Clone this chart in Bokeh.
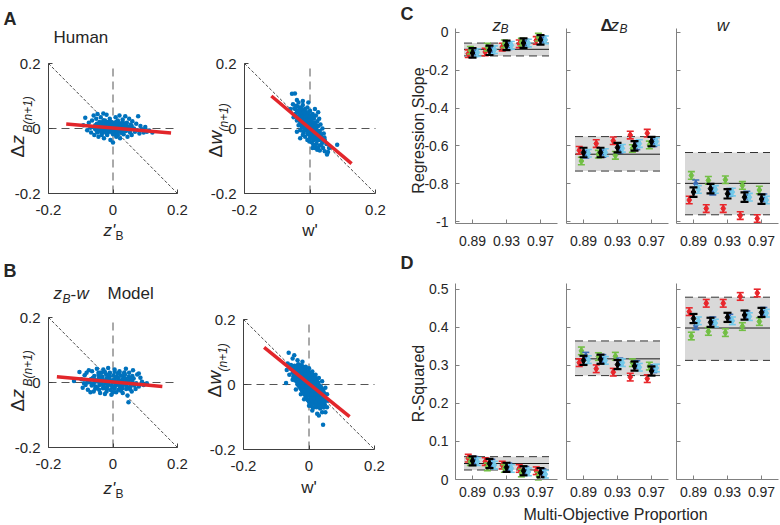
import math
from bokeh.plotting import figure
from bokeh.models import Label, FixedTicker, CustomJSTickFormatter, LinearAxis, Range1d
from bokeh.layouts import row, column
from bokeh.embed import file_html
from bokeh.resources import INLINE

FONT = "Liberation Sans"
INK = "#262626"
DOT = "#0072bd"
FIT = "#e2262b"

# ---------------- data: scatter panels ----------------
scatter_lim = [-0.2, 0.2]
scatter_ticks = [-0.2, 0, 0.2]

human_dz_pts = [
    (-.092, .010), (-.086, .033), (-.080, -.005), (-.075, .018), (-.070, .002), (-.068, -.012), (-.065, .025),
    (-.060, .040), (-.058, -.020), (-.055, .010), (-.052, .030), (-.050, -.008), (-.048, .045), (-.045, -.025),
    (-.042, .020), (-.040, .000), (-.038, .035), (-.035, -.015), (-.032, .012), (-.030, .046), (-.028, -.030),
    (-.025, .025), (-.022, .005), (-.020, .042), (-.018, -.020), (-.015, .015), (-.012, -.005), (-.010, .030),
    (-.008, -.035), (-.005, .020), (.000, -.043), (.002, .010), (.005, -.015), (.008, .035), (.010, -.025),
    (.012, .005), (.015, .025), (.018, -.010), (.020, .040), (.022, -.030), (.025, .015), (.028, -.005),
    (.030, .028), (.033, -.018), (.035, .008), (.038, .038), (.040, -.008), (.043, .018), (.045, -.025),
    (.048, .005), (.050, .030), (.053, -.012), (.055, .012), (.058, -.020), (.060, .022), (.065, .000),
    (.068, -.010), (.072, .015), (.075, -.005), (.078, .038), (.082, -.015), (.085, .008), (.090, -.002),
    (.095, -.012), (.100, .005), (.105, -.010), (.112, -.006), (.122, -.012),
    (-.045, .005), (-.043, -.003), (-.040, .012), (-.038, -.008), (-.036, .004), (-.034, .018), (-.032, -.002),
    (-.030, .008), (-.028, -.010), (-.027, .015), (-.025, .000), (-.023, -.006), (-.021, .010), (-.019, .020),
    (-.018, .002), (-.016, -.012), (-.015, .007), (-.013, .014), (-.011, -.003), (-.010, .004), (-.008, .012),
    (-.007, -.010), (-.005, .000), (-.004, .008), (-.002, -.005), (.000, .015), (.001, .003), (.003, -.008),
    (.004, .006), (.006, .018), (.007, -.002), (.009, .010), (.011, -.012), (.013, .002), (.014, .012),
    (.016, -.004), (.018, .006), (.020, .016), (.021, -.008), (.023, .001), (.025, .009), (.027, -.014),
    (.029, .004), (.031, -.003), (.033, .015), (.036, -.006), (.038, .002), (.041, .010), (.044, -.004),
    (-.050, .015), (-.055, -.002), (-.048, -.012), (-.020, -.015), (.000, -.018), (.015, -.020), (-.010, .022),
    (.010, .020), (-.030, .025), (.030, .020), (-.060, .005), (.052, .000), (.058, .008), (-.035, -.020),
]
human_dz_fit_x = [-0.145, 0.18]
human_dz_fit_y = [0.014, -0.014]

human_dw_pts = [
    (-.055, .107), (-.046, .108), (-.040, .088), (-.052, .075), (-.060, .060), (-.048, .062), (-.042, .070),
    (-.035, .080), (-.030, .065), (-.038, .050), (-.045, .045), (-.050, .035), (-.033, .040), (-.028, .055),
    (-.022, .072), (-.015, .060), (-.025, .030), (-.030, .020), (-.040, .025), (-.035, .010), (-.020, .045),
    (-.012, .050), (-.008, .065), (-.018, .020), (-.010, .030), (-.005, .040), (.000, .055), (-.025, .005),
    (-.015, .000), (-.005, .015), (.002, .030), (.008, .045), (-.030, -.005), (-.020, -.012), (-.010, -.005),
    (.000, .005), (.005, .020), (.012, .030), (.018, .040), (-.015, -.025), (-.005, -.018), (.003, -.008),
    (.010, .000), (.015, .012), (.022, .022), (.028, .030), (-.008, -.035), (.000, -.028), (.008, -.020),
    (.015, -.012), (.020, -.002), (.025, .008), (.032, .012), (.005, -.042), (.012, -.035), (.018, -.025),
    (.025, -.018), (.030, -.008), (.038, .000), (.010, -.050), (.020, -.045), (.028, -.035), (.035, -.025),
    (.042, -.015), (.015, -.060), (.022, -.065), (.030, -.052), (.038, -.042), (.045, -.035), (.050, -.048),
    (.040, -.060), (.055, -.072), (.052, -.080), (.083, -.050), (.062, -.058), (.045, -.070), (-.022, .085),
    (-.005, .080), (.015, .060), (.025, .050), (-.040, -.010), (-.030, -.030), (.030, -.068), (.008, -.060),
    (-.008, .000), (-.002, .010), (.006, .008), (-.012, .015), (-.018, .035), (.000, -.012), (.010, -.012),
    (-.025, .040), (.004, -.002), (-.003, -.005), (.012, .018), (-.020, .025), (.020, -.030), (-.028, .012),
    (.016, .002), (-.036, .030), (.034, -.018), (.026, -.010), (-.010, .022), (.000, .022), (.007, .032),
    (-.016, .008), (.044, -.028), (-.044, .038), (.058, -.060),
    (-.030, .045), (-.025, .050), (-.020, .055), (-.015, .040), (-.010, .045), (-.005, .050), (-.035, .035),
    (-.028, .028), (-.022, .018), (-.012, .005), (-.006, .028), (.003, .040), (.010, .035), (-.018, -.005),
    (-.008, -.015), (.002, -.020), (.012, -.025), (.022, -.035), (.005, -.030), (-.002, -.040), (.015, -.005),
    (.020, .010), (-.032, .058), (-.026, .062), (-.040, .055), (-.045, .060), (.006, -.010), (-.014, .025),
    (-.004, .002), (.014, -.018), (.028, -.022), (.018, -.055), (.025, -.060), (.035, -.050), (-.018, .050),
    (-.038, .068), (.000, .035), (-.022, -.020), (.032, -.030), (.040, -.038),
]
human_dw_fit_x = [-0.118, 0.127]
human_dw_fit_y = [0.100, -0.108]

model_dz_pts = [
    (-.058, .020), (-.045, .023), (-.033, .018), (-.021, .024), (-.010, .019), (.002, .022), (.013, .017),
    (.025, .021), (.037, .024), (.049, .018), (.060, .020),
    (-.068, .011), (-.056, .008), (-.044, .013), (-.032, .009), (-.020, .012), (-.008, .007), (.004, .010),
    (.016, .013), (.028, .008), (.040, .011), (.052, .009), (.064, .012),
    (-.072, .001), (-.060, -.002), (-.048, .003), (-.036, .000), (-.024, -.003), (-.012, .002), (.000, -.001),
    (.012, .003), (.024, -.002), (.036, .001), (.048, -.001), (.060, .002), (.072, -.002),
    (-.066, -.009), (-.054, -.012), (-.042, -.008), (-.030, -.011), (-.018, -.013), (-.006, -.009),
    (.006, -.012), (.018, -.008), (.030, -.011), (.042, -.010), (.054, -.013), (.066, -.009),
    (-.055, -.019), (-.043, -.022), (-.031, -.018), (-.019, -.021), (-.007, -.023), (.005, -.019),
    (.017, -.022), (.029, -.018), (.041, -.020), (.053, -.021),
    (-.040, .030), (-.025, .032), (-.010, .029), (.005, .033), (.020, .030), (.035, .031),
    (-.050, .005), (-.026, .004), (-.002, .006), (.022, .005), (.046, .004),
    (-.062, -.005), (-.038, -.004), (-.014, -.006), (.010, -.005), (.034, -.004), (.058, -.006),
    (-.062, .015), (-.038, .016), (-.014, .014), (.010, .016), (.034, .015), (.058, .014),
    (-.050, -.015), (-.026, -.016), (-.002, -.014), (.022, -.015), (.046, -.016),
    (-.121, .005), (-.104, .032), (-.094, -.016), (-.098, .010), (-.088, .022), (-.085, -.008), (-.082, .030),
    (-.080, .000), (-.078, -.022), (-.075, .038), (-.070, -.030), (-.065, .035), (-.060, -.028), (-.050, .042),
    (-.040, -.032), (-.030, .040), (-.025, -.035), (-.015, .045), (-.005, -.038), (.005, .040), (.010, -.030),
    (.020, .035), (.030, -.032), (.040, .042), (.048, -.061), (.050, .030), (.058, -.028), (.062, .038),
    (.070, -.020), (.075, .025), (.080, -.012), (.085, .015), (.090, .002), (.095, -.008), (.105, -.002),
    (.080, .028), (-.090, -.002), (.045, -.040), (-.035, .030), (.015, .028), (.035, .028), (-.010, .030),
    (-.045, .030), (.000, -.030), (-.020, -.028), (.025, -.025),
]
model_dz_fit_x = [-0.174, 0.153]
model_dz_fit_y = [0.018, -0.012]

model_dw_pts = [
    (-.055, .060), (-.044, .058), (-.033, .062), (-.022, .059),
    (-.055, .048), (-.044, .050), (-.033, .046), (-.022, .049), (-.011, .047), (.000, .050),
    (-.050, .036), (-.039, .034), (-.028, .038), (-.017, .035), (-.006, .037), (.005, .034),
    (-.048, .024), (-.037, .026), (-.026, .022), (-.015, .025), (-.004, .023), (.007, .026), (.018, .022),
    (-.042, .012), (-.031, .010), (-.020, .014), (-.009, .011), (.002, .013), (.013, .010), (.024, .014),
    (-.035, .000), (-.024, .002), (-.013, -.002), (-.002, .001), (.009, -.001), (.020, .002), (.031, -.002),
    (-.026, -.012), (-.015, -.010), (-.004, -.014), (.007, -.011), (.018, -.013), (.029, -.010), (.040, -.014),
    (-.018, -.024), (-.007, -.022), (.004, -.026), (.015, -.023), (.026, -.025), (.037, -.022), (.046, -.026),
    (-.010, -.036), (.001, -.034), (.012, -.038), (.023, -.035), (.034, -.037), (.045, -.034),
    (-.004, -.048), (.007, -.050), (.018, -.046), (.029, -.049), (.040, -.047), (.050, -.050),
    (.004, -.060), (.015, -.058), (.026, -.062), (.037, -.059), (.048, -.061),
    (.012, -.072), (.023, -.070), (.034, -.074), (.045, -.071),
    (-.050, .054), (-.039, .053), (-.028, .055), (-.017, .054),
    (-.045, .042), (-.034, .041), (-.023, .043), (-.012, .042), (-.001, .041),
    (-.044, .030), (-.033, .030), (-.022, .030), (-.011, .030), (.000, .030), (.011, .030),
    (-.040, .018), (-.029, .018), (-.018, .018), (-.007, .018), (.004, .018), (.015, .018),
    (-.036, .006), (-.025, .006), (-.014, .006), (-.003, .006), (.008, .006), (.019, .006), (.028, .006),
    (-.030, -.006), (-.019, -.006), (-.008, -.006), (.003, -.006), (.014, -.006), (.025, -.006), (.036, -.006),
    (-.022, -.018), (-.011, -.018), (.000, -.018), (.011, -.018), (.022, -.018), (.033, -.018), (.043, -.018),
    (-.014, -.030), (-.003, -.030), (.008, -.030), (.019, -.030), (.030, -.030), (.041, -.030),
    (-.007, -.042), (.004, -.042), (.015, -.042), (.026, -.042), (.037, -.042), (.047, -.042),
    (.000, -.054), (.011, -.054), (.022, -.054), (.033, -.054), (.044, -.054),
    (.008, -.066), (.019, -.066), (.030, -.066), (.041, -.066),
    (-.062, .098), (-.050, .080), (-.035, .075), (-.065, .065), (-.070, .005), (-.060, .030), (-.068, .045),
    (-.020, .070), (-.010, .055), (.010, .040), (.020, .030), (.030, .020), (.040, .010), (.050, -.010),
    (.055, -.030), (.058, -.050), (.055, -.070), (.040, -.085), (.025, -.090), (.010, -.080), (.043, -.124),
    (.000, -.065), (-.015, -.045), (-.025, -.030), (-.040, -.015), (-.050, .015), (.030, -.095), (.050, -.085),
    (-.045, .090), (-.030, .060),
]
model_dw_fit_x = [-0.137, 0.124]
model_dw_fit_y = [0.114, -0.099]

# ---------------- data: regression panels ----------------
proportions = [0.89, 0.91, 0.93, 0.95, 0.97]
prop_lim = [0.87, 0.99]
prop_ticks = [0.89, 0.93, 0.97]
band_x = [0.88, 0.98]
slope_lim = [-1.01, 0.02]
slope_ticks = [-1, -0.8, -0.6, -0.4, -0.2, 0]
r2_lim = [0.0, 0.515]
r2_ticks = [0, 0.1, 0.2, 0.3, 0.4, 0.5]

slope_zb_red = [-0.113, -0.104, -0.078, -0.061, -0.043]
slope_zb_green = [-0.095, -0.078, -0.061, -0.052, -0.026]
slope_zb_blue = [-0.108, -0.093, -0.070, -0.057, -0.038]
slope_zb_cyan = [-0.107, -0.092, -0.069, -0.057, -0.040]
slope_zb_black = [-0.109, -0.095, -0.069, -0.057, -0.040]
slope_zb_band = [-0.125, -0.090, -0.057]   # low, human, high

slope_dzb_red = [-0.623, -0.588, -0.573, -0.543, -0.533]
slope_dzb_green = [-0.680, -0.644, -0.650, -0.614, -0.595]
slope_dzb_blue = [-0.644, -0.640, -0.618, -0.600, -0.583]
slope_dzb_cyan = [-0.639, -0.635, -0.613, -0.588, -0.577]
slope_dzb_black = [-0.635, -0.635, -0.609, -0.600, -0.577]
slope_dzb_band = [-0.733, -0.644, -0.551]

slope_w_red = [-0.886, -0.931, -0.931, -0.968, -0.984]
slope_w_green = [-0.756, -0.782, -0.779, -0.809, -0.833]
slope_w_blue = [-0.800, -0.839, -0.846, -0.860, -0.874]
slope_w_cyan = [-0.830, -0.830, -0.844, -0.871, -0.886]
slope_w_black = [-0.844, -0.826, -0.853, -0.871, -0.881]
slope_w_band = [-0.964, -0.798, -0.635]

r2_zb_red = [0.056, 0.047, 0.038, 0.029, 0.023]
r2_zb_green = [0.047, 0.033, 0.029, 0.017, 0.009]
r2_zb_blue = [0.050, 0.043, 0.033, 0.024, 0.018]
r2_zb_cyan = [0.047, 0.038, 0.029, 0.020, 0.014]
r2_zb_black = [0.049, 0.042, 0.032, 0.023, 0.018]
r2_zb_band = [0.025, 0.042, 0.060]

r2_dzb_red = [0.307, 0.291, 0.282, 0.269, 0.265]
r2_dzb_green = [0.338, 0.323, 0.324, 0.307, 0.298]
r2_dzb_blue = [0.324, 0.318, 0.309, 0.302, 0.291]
r2_dzb_cyan = [0.315, 0.313, 0.307, 0.295, 0.293]
r2_dzb_black = [0.313, 0.316, 0.302, 0.298, 0.285]
r2_dzb_band = [0.273, 0.317, 0.364]

r2_w_red = [0.441, 0.463, 0.463, 0.481, 0.490]
r2_w_green = [0.377, 0.389, 0.386, 0.402, 0.415]
r2_w_blue = [0.404, 0.417, 0.424, 0.433, 0.442]
r2_w_cyan = [0.417, 0.411, 0.417, 0.428, 0.437]
r2_w_black = [0.423, 0.413, 0.426, 0.432, 0.439]
r2_w_band = [0.313, 0.398, 0.479]

slope_err, slope_err_black = 0.020, 0.025
r2_err, r2_err_black = 0.010, 0.012

SERIES = ["red", "green", "blue", "cyan", "black"]
COLORS = {"red": "#e8262b", "green": "#72bf44", "blue": "#3b6cb7", "cyan": "#72c9ea", "black": "#000000"}
DODGE = {"red": -0.005, "green": -0.0025, "blue": 0.0027, "cyan": 0.0057, "black": 0.0}

FMT = CustomJSTickFormatter(code="return String(Number(tick.toFixed(3)));")
BLANK = CustomJSTickFormatter(code="return '';")


def lab(p, x, y, text, size, dx=0, dy=0, angle=0, align="left", style="normal", xn="default", yn="default"):
    p.add_layout(Label(x=x, y=y, x_offset=dx, y_offset=dy, text=text, angle=angle,
                       x_range_name=xn, y_range_name=yn,
                       text_align=align, text_baseline="alphabetic", text_font=FONT,
                       text_font_size=f"{size}px", text_font_style=style, text_color=INK))


def hspan(c0, c1, f0, f1, lim):
    """data range that puts lim onto page pixels f0..f1 of a canvas c0..c1 (left to right)"""
    s = (f1 - f0) / (lim[1] - lim[0])
    return (lim[0] - (f0 - c0) / s, lim[1] + (c1 - f1) / s)


def vspan(c_top, c_bot, f_top, f_bot, lim):
    """data range that puts lim onto page pixels f_bot..f_top of a canvas c_top..c_bot"""
    s = (f_bot - f_top) / (lim[1] - lim[0])
    return (lim[0] - (c_bot - f_bot) / s, lim[1] + (f_top - c_top) / s)


def new_fig(canvas, xr, yr):
    cx0, cy0, cx1, cy1 = canvas
    p = figure(width=cx1 - cx0, height=cy1 - cy0, x_range=Range1d(*xr), y_range=Range1d(*yr),
               x_axis_location=None, y_axis_location=None,
               output_backend="svg", toolbar_location=None,
               min_border=0, min_border_left=0, min_border_right=0,
               min_border_top=0, min_border_bottom=0)
    p.outline_line_color = None
    p.grid.visible = False
    p.xgrid.visible = False
    p.ygrid.visible = False
    p.background_fill_color = "white"
    p.border_fill_color = "white"
    return p


def add_axes(p, xn, yn, xlim, ylim, xt, yt, fs, color, xstand, ystand, ylabels=True):
    xa = LinearAxis(x_range_name=xn, y_range_name=yn, fixed_location=ylim[0], bounds=tuple(xlim))
    ya = LinearAxis(x_range_name=xn, y_range_name=yn, fixed_location=xlim[0], bounds=tuple(ylim))
    for ax, ticks in ((xa, xt), (ya, yt)):
        ax.ticker = FixedTicker(ticks=ticks)
        ax.formatter = FMT
        ax.major_tick_in = 4
        ax.major_tick_out = 0
        ax.minor_tick_line_color = None
        ax.axis_line_color = color
        ax.major_tick_line_color = color
        ax.major_label_text_font = FONT
        ax.major_label_text_font_size = f"{fs}px"
        ax.major_label_text_color = INK
    xa.major_label_standoff = xstand
    ya.major_label_standoff = ystand
    if not ylabels:
        ya.formatter = BLANK
        ya.major_label_standoff = 0
    p.add_layout(xa, "below")
    p.add_layout(ya, "left")


def scatter_panel(canvas, frame, pts, fx, fy):
    xr = hspan(canvas[0], canvas[2], frame[0], frame[2], scatter_lim)
    yr = vspan(canvas[1], canvas[3], frame[1], frame[3], scatter_lim)
    p = new_fig(canvas, xr, yr)
    add_axes(p, "default", "default", scatter_lim, scatter_lim, scatter_ticks, scatter_ticks,
             15, "#404040", 11, 8)
    p.line(scatter_lim, [0, 0], line_color="#555555", line_width=1, line_dash="8 5")
    p.line([0, 0], scatter_lim, line_color="#555555", line_width=1, line_dash="8 5")
    p.line(scatter_lim, [-v for v in scatter_lim], line_color="#1a1a1a", line_width=0.8, line_dash="3 2")
    p.scatter([q[0] for q in pts], [q[1] for q in pts], size=4.5, fill_color=DOT, line_color=None)
    p.line(fx, fy, line_color=FIT, line_width=3.5)
    return p


def perf_panel(p, xn, yn, ylim, yticks, series, band, err, err_black, xstand, ylabels):
    kw = dict(x_range_name=xn, y_range_name=yn)
    add_axes(p, xn, yn, prop_lim, ylim, prop_ticks, yticks, 14, "#808080", xstand, 7, ylabels)
    lo, mid, hi = band
    p.quad(left=[band_x[0]], right=[band_x[1]], bottom=[lo], top=[hi],
           fill_color="#d9d9d9", line_color=None, **kw)
    p.line(band_x, [hi, hi], line_color="#333333", line_width=1, line_dash="8 5", **kw)
    p.line(band_x, [lo, lo], line_color="#333333", line_width=1, line_dash="8 5", **kw)
    p.line(band_x, [mid, mid], line_color="#1a1a1a", line_width=1, **kw)
    for name in SERIES:
        vals = series[name]
        col = COLORS[name]
        e = err_black if name == "black" else err
        lw = 2.2 if name == "black" else 1.6
        xs = [g + DODGE[name] for g in proportions]
        lows = [v - e for v in vals]
        highs = [v + e for v in vals]
        p.segment(x0=xs, y0=lows, x1=xs, y1=highs, line_color=col, line_width=lw, **kw)
        p.scatter(xs + xs, lows + highs, marker="dash", size=8 if name == "black" else 7,
                  line_color=col, line_width=lw, **kw)
        p.scatter(xs, vals, marker="diamond", size=7, fill_color=col, line_color=col, **kw)


# ---------------- page geometry (page pixels: left, top, right, bottom) ----------------
A1_CANVAS, A2_CANVAS = (0, 0, 198, 254), (198, 0, 398, 254)
B1_CANVAS, B2_CANVAS = (0, 254, 198, 524), (198, 254, 398, 524)
A1_FRAME, A2_FRAME = (48, 63, 177, 193), (244, 63, 375, 193)
B1_FRAME, B2_FRAME = (48, 317, 177, 447), (243, 319, 374, 449)

RIGHT_CANVAS = (398, 0, 779, 524)
COL_X = [(455, 557), (566, 668), (676, 778)]     # panel columns
C_Y, D_Y = (28, 223), (283, 479)                  # panel rows (top, bottom)

# ---------------- scatter panels (A, B) ----------------
a1 = scatter_panel(A1_CANVAS, A1_FRAME, human_dz_pts, human_dz_fit_x, human_dz_fit_y)
a2 = scatter_panel(A2_CANVAS, A2_FRAME, human_dw_pts, human_dw_fit_x, human_dw_fit_y)
b1 = scatter_panel(B1_CANVAS, B1_FRAME, model_dz_pts, model_dz_fit_x, model_dz_fit_y)
b2 = scatter_panel(B2_CANVAS, B2_FRAME, model_dw_pts, model_dw_fit_x, model_dw_fit_y)

R = math.pi / 2
lab(a1, -0.2, 0.2, "A", 18, dx=-45, dy=45, style="bold")
lab(a1, -0.2, 0.2, "Human", 17, dx=5, dy=26)
lab(b1, -0.2, 0.2, "B", 18, dx=-45, dy=47, style="bold")
lab(b1, -0.2, 0.2, "z", 17, dx=5, dy=24, style="italic")
lab(b1, -0.2, 0.2, "B", 12, dx=14, dy=19, style="italic")
lab(b1, -0.2, 0.2, "-", 17, dx=22, dy=24)
lab(b1, -0.2, 0.2, "w", 17, dx=28, dy=24, style="italic")
lab(b1, -0.2, 0.2, "Model", 17, dx=59, dy=24)

for p in (a1, b1):
    lab(p, -0.2, 0, "Δ", 19, dx=-31, dy=-29, angle=R)
    lab(p, -0.2, 0, "z", 19, dx=-31, dy=-16, angle=R, style="italic")
    lab(p, -0.2, 0, "B(n+1)", 12, dx=-21, dy=-4, angle=R, style="italic")
lab(a1, 0, -0.2, "z'", 17, dx=-9.5, dy=-37, style="italic")
lab(a1, 0, -0.2, "B", 12, dx=2.5, dy=-42)
lab(b1, 0, -0.2, "z'", 17, dx=-9.5, dy=-41, style="italic")
lab(b1, 0, -0.2, "B", 12, dx=2.5, dy=-46)

for p, sh in ((a2, -29), (b2, -13)):
    lab(p, -0.2, 0, "Δ", 19, dx=-29, dy=sh, angle=R)
    lab(p, -0.2, 0, "w", 19, dx=-29, dy=sh + 13, angle=R, style="italic")
    lab(p, -0.2, 0, "(n+1)", 12, dx=-21, dy=sh + 26, angle=R, style="italic")
lab(a2, 0, -0.2, "w'", 17, dy=-37, align="center")
lab(b2, 0, -0.2, "w'", 17, dy=-38, align="center")

# ---------------- regression panels (C, D) in one canvas ----------------
def ser(prefix):
    g = globals()
    return {n: g[f"{prefix}_{n}"] for n in SERIES}

rx0, ry0, rx1, ry1 = RIGHT_CANVAS
xnames = ["default", "p2", "p3"]
xranges = [hspan(rx0, rx1, c[0], c[1], prop_lim) for c in COL_X]
right = new_fig(RIGHT_CANVAS, xranges[0], vspan(ry0, ry1, C_Y[0], C_Y[1], slope_lim))
right.extra_x_ranges = {"p2": Range1d(*xranges[1]), "p3": Range1d(*xranges[2])}
right.extra_y_ranges = {"r2": Range1d(*vspan(ry0, ry1, D_Y[0], D_Y[1], r2_lim))}

for i, pre in enumerate(["slope_zb", "slope_dzb", "slope_w"]):
    perf_panel(right, xnames[i], "default", slope_lim, slope_ticks, ser(pre), globals()[pre + "_band"],
               slope_err, slope_err_black, 12, i == 0)
for i, pre in enumerate(["r2_zb", "r2_dzb", "r2_w"]):
    perf_panel(right, xnames[i], "r2", r2_lim, r2_ticks, ser(pre), globals()[pre + "_band"],
               r2_err, r2_err_black, 7, i == 0)

top = slope_lim[1]
lab(right, 0.87, top, "C", 18, dx=-55, dy=15, style="bold")
lab(right, 0.93, top, "z", 17, dx=-14, dy=3, style="italic")
lab(right, 0.93, top, "B", 12, dx=-6, dy=0, style="italic")
lab(right, 0.93, top, "Δ", 17, dx=-17, dy=3, style="bold", xn="p2")
lab(right, 0.93, top, "z", 17, dx=-7, dy=3, style="italic", xn="p2")
lab(right, 0.93, top, "B", 12, dx=2, dy=0, style="italic", xn="p2")
lab(right, 0.93, top, "w", 17, dx=-4.5, dy=3, align="center", style="italic", xn="p3")
lab(right, 0.87, sum(slope_lim) / 2, "Regression Slope", 16, dx=-37, dy=-4.5, angle=R, align="center")
lab(right, 0.87, r2_lim[1], "D", 18, dx=-55, dy=21, style="bold", yn="r2")
lab(right, 0.87, sum(r2_lim) / 2, "R-Squared", 16, dx=-37, dy=-2, angle=R, align="center", yn="r2")
lab(right, 0.93, r2_lim[0], "Multi-Objective Proportion", 16, dx=-2, dy=-35, align="center", xn="p2", yn="r2")

layout = row(column(row(a1, a2), row(b1, b2)), right)

open("out.html", "w").write(file_html(layout, INLINE))
